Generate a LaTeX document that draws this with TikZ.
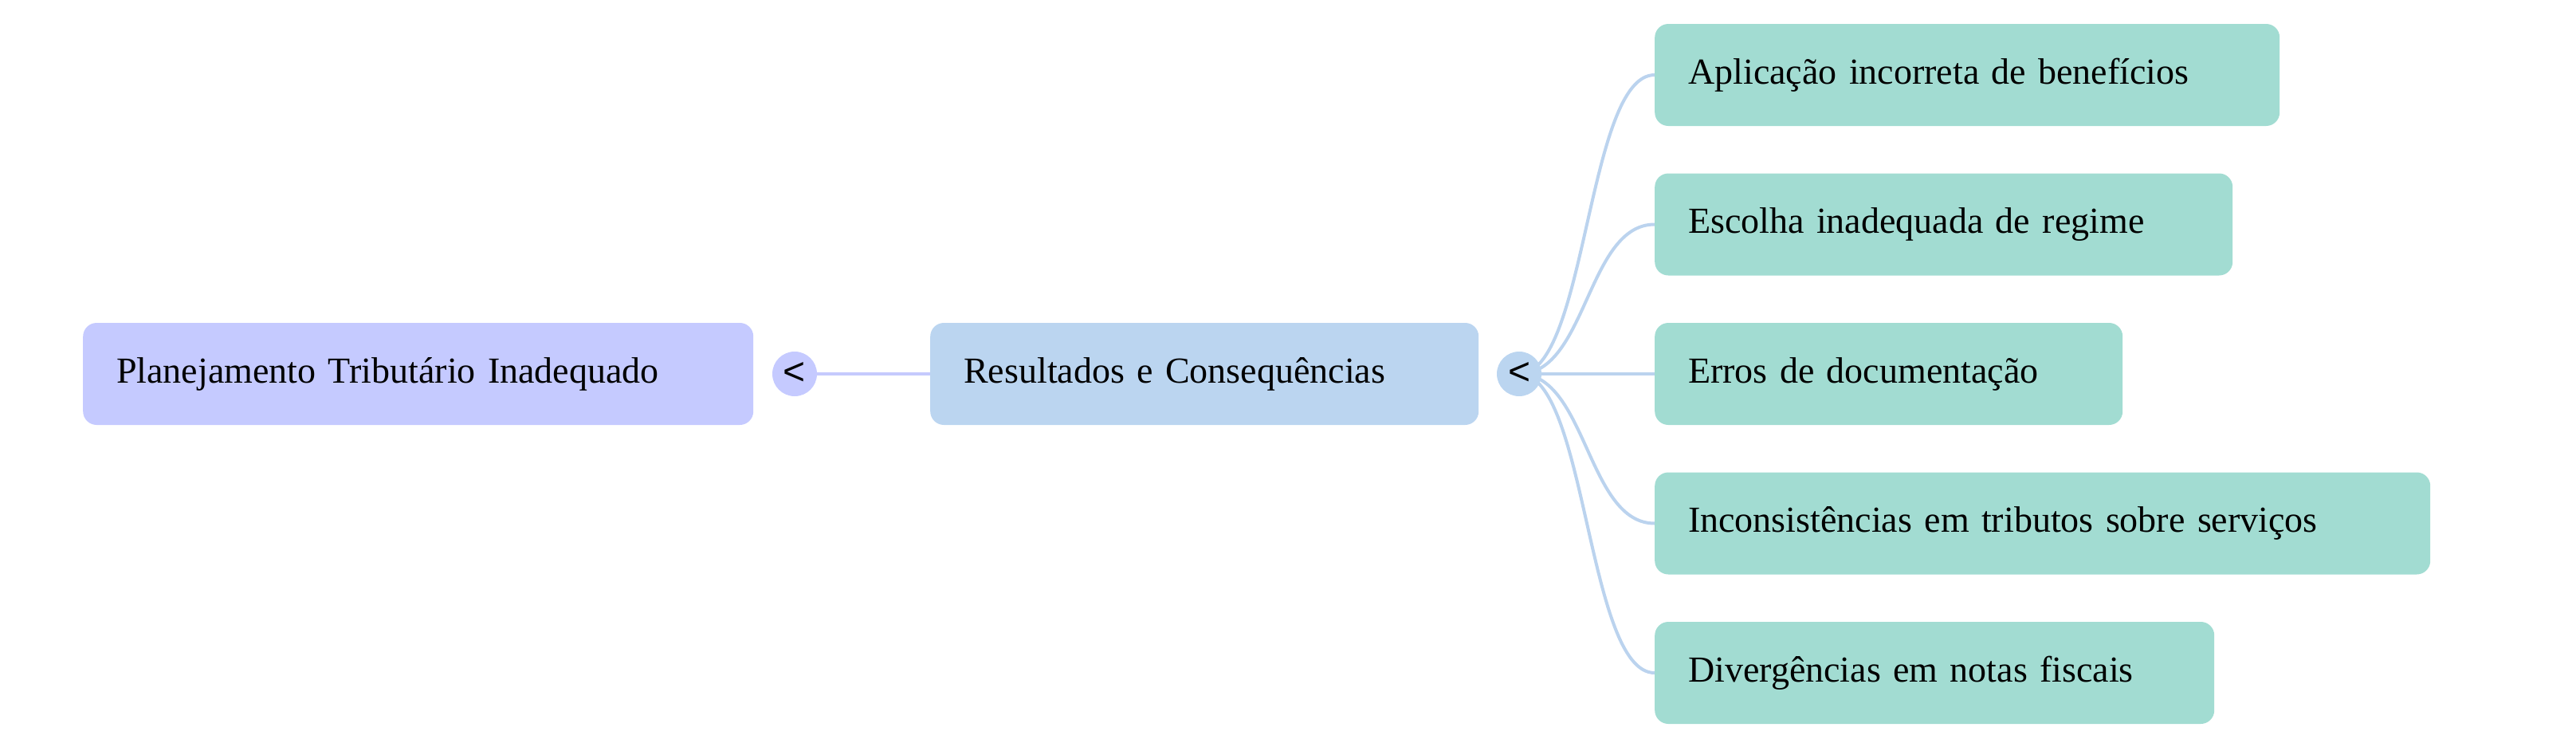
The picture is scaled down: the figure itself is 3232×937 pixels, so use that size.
\documentclass[tikz,border=0pt]{standalone}
\usepackage{fontspec}
\setmainfont{Liberation Serif}
\newfontfamily\arrowfont{Liberation Sans}
\usetikzlibrary{backgrounds,calc}
\definecolor{lavnode}{HTML}{C5CAFF}
\definecolor{bluenode}{HTML}{BBD5F0}
\definecolor{greennode}{HTML}{A2DCD2}
\definecolor{lavline}{HTML}{C5CAFD}
\definecolor{blueline}{HTML}{BBD3EE}
\begin{document}
\begin{tikzpicture}[x=1pt,y=-1pt,
  box/.style={anchor=west, rounded corners=17pt, minimum height=128pt, inner xsep=42pt, inner ysep=0pt,
    text height=34pt, text depth=12pt, align=left, font=\fontsize{46}{56}\selectfont},
  dot/.style={circle, minimum size=56pt, inner sep=0pt, font=\arrowfont\fontsize{48}{56}\selectfont},
  lavlink/.style={draw=lavline, line width=4pt},
  bluelink/.style={draw=blueline, line width=4pt}
]
\useasboundingbox (0,0) rectangle (3232,937);
% nodes
\node[box, fill=lavnode, minimum width=841pt, text width=757pt] (root) at (104,469) {Planejamento Tributário Inadequado};
\node[dot, fill=lavnode] (lc) at (997,469) {<};
\node[box, fill=bluenode, minimum width=688pt, text width=604pt] (mid) at (1167,469) {Resultados e Consequências};
\node[dot, fill=bluenode] (rc) at (1906,469) {<};
\node[box, fill=greennode, minimum width=784pt, text width=700pt] (g1) at (2076,94) {Aplicação incorreta de benefícios};
\node[box, fill=greennode, minimum width=725pt, text width=641pt] (g2) at (2076,281.5) {Escolha inadequada de regime};
\node[box, fill=greennode, minimum width=587pt, text width=503pt] (g3) at (2076,469) {Erros de documentação};
\node[box, fill=greennode, minimum width=973pt, text width=889pt] (g4) at (2076,656.5) {Inconsistências em tributos sobre serviços};
\node[box, fill=greennode, minimum width=702pt, text width=618pt] (g5) at (2076,844) {Divergências em notas fiscais};
% connectors
\begin{pgfonlayer}{background}
\draw[lavlink] (lc.center) -- (mid.west);
\foreach \g in {g1,g2,g3,g4,g5}{
  \draw[bluelink] (rc.center) .. controls ($(rc.center)+(85,0)$) and ($(\g.west)+(-85,0)$) .. (\g.west);
}
\end{pgfonlayer}
\end{tikzpicture}
\end{document}
